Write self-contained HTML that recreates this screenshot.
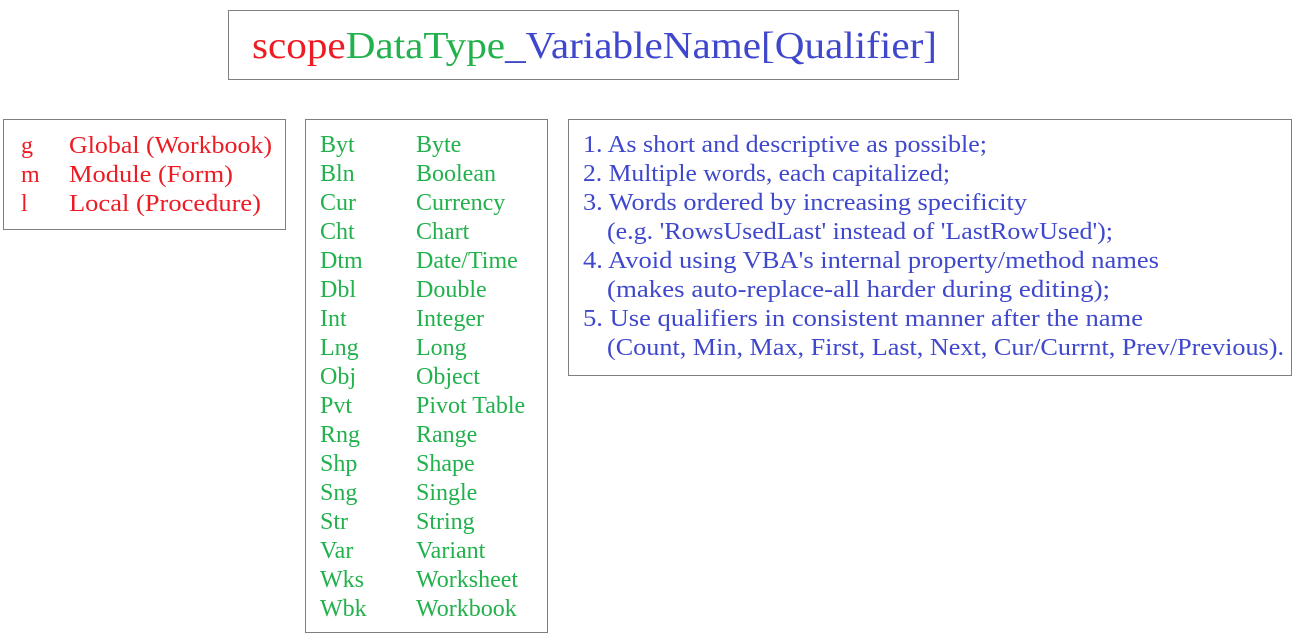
<!DOCTYPE html>
<html><head><meta charset="utf-8"><style>
html,body{margin:0;padding:0;background:#fff;}
svg{display:block;}
text{font-family:"Liberation Serif",serif;font-size:24px;}
.r{fill:#ed1c24}.g{fill:#22b14c}.b{fill:#3f48cc}
</style></head><body>
<svg width="1295" height="640" viewBox="0 0 1295 640">
<g fill="none" stroke="#7f7f7f" stroke-width="1">
<rect x="228.5" y="10.5" width="730" height="69"/>
<rect x="3.5" y="119.5" width="282" height="110"/>
<rect x="305.5" y="119.5" width="242" height="513"/>
<rect x="568.5" y="119.5" width="723" height="256"/>
</g>
<text x="252" y="58" style="font-size:38px" textLength="685" lengthAdjust="spacingAndGlyphs"><tspan class="r">scope</tspan><tspan class="g">DataType</tspan><tspan class="b">_VariableName[Qualifier]</tspan></text>
<g transform="translate(0,1)">
<text class="r" x="21" y="152">g</text>
<text class="r" x="69" y="152" textLength="203" lengthAdjust="spacingAndGlyphs">Global (Workbook)</text>
<text class="r" x="21" y="181">m</text>
<text class="r" x="69" y="181" textLength="164" lengthAdjust="spacingAndGlyphs">Module (Form)</text>
<text class="r" x="21" y="210">l</text>
<text class="r" x="69" y="210" textLength="192" lengthAdjust="spacingAndGlyphs">Local (Procedure)</text>

<g class="g">
<text x="320" y="151">Byt</text><text x="416" y="151">Byte</text>
<text x="320" y="180">Bln</text><text x="416" y="180">Boolean</text>
<text x="320" y="209">Cur</text><text x="416" y="209">Currency</text>
<text x="320" y="238">Cht</text><text x="416" y="238">Chart</text>
<text x="320" y="267">Dtm</text><text x="416" y="267">Date/Time</text>
<text x="320" y="296">Dbl</text><text x="416" y="296">Double</text>
<text x="320" y="325">Int</text><text x="416" y="325">Integer</text>
<text x="320" y="354">Lng</text><text x="416" y="354">Long</text>
<text x="320" y="383">Obj</text><text x="416" y="383">Object</text>
<text x="320" y="412">Pvt</text><text x="416" y="412">Pivot Table</text>
<text x="320" y="441">Rng</text><text x="416" y="441">Range</text>
<text x="320" y="470">Shp</text><text x="416" y="470">Shape</text>
<text x="320" y="499">Sng</text><text x="416" y="499">Single</text>
<text x="320" y="528">Str</text><text x="416" y="528">String</text>
<text x="320" y="557">Var</text><text x="416" y="557">Variant</text>
<text x="320" y="586">Wks</text><text x="416" y="586">Worksheet</text>
<text x="320" y="615">Wbk</text><text x="416" y="615">Workbook</text>
</g>

<g class="b">
<text x="583" y="151" textLength="404" lengthAdjust="spacingAndGlyphs">1. As short and descriptive as possible;</text>
<text x="583" y="180" textLength="367" lengthAdjust="spacingAndGlyphs">2. Multiple words, each capitalized;</text>
<text x="583" y="209" textLength="444" lengthAdjust="spacingAndGlyphs">3. Words ordered by increasing specificity</text>
<text x="607" y="238" textLength="506" lengthAdjust="spacingAndGlyphs">(e.g. 'RowsUsedLast' instead of 'LastRowUsed');</text>
<text x="583" y="267" textLength="576" lengthAdjust="spacingAndGlyphs">4. Avoid using VBA's internal property/method names</text>
<text x="607" y="296" textLength="503" lengthAdjust="spacingAndGlyphs">(makes auto-replace-all harder during editing);</text>
<text x="583" y="325" textLength="560" lengthAdjust="spacingAndGlyphs">5. Use qualifiers in consistent manner after the name</text>
<text x="607" y="354" textLength="677" lengthAdjust="spacingAndGlyphs">(Count, Min, Max, First, Last, Next, Cur/Currnt, Prev/Previous).</text>
</g>
</g>
</svg>
</body></html>
